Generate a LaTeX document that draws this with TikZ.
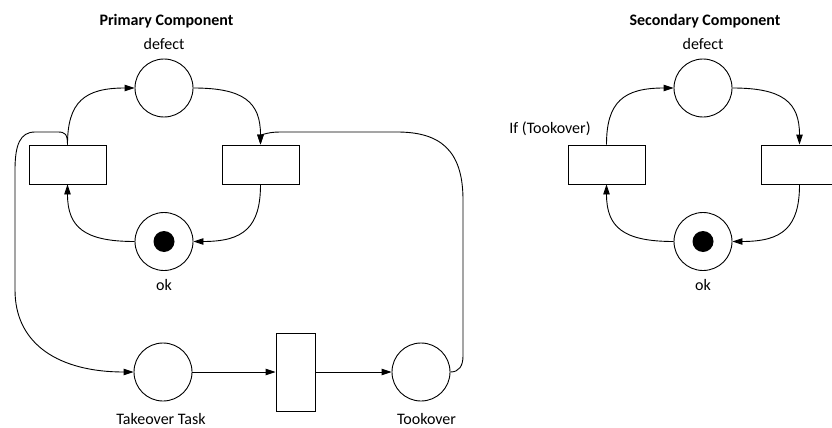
\documentclass[tikz,border=0pt]{standalone}
\usepackage{fontspec}
\setmainfont{Carlito}
\usetikzlibrary{arrows.meta,calc}
\begin{document}
\begin{tikzpicture}[x=1pt,y=-1pt,
  place/.style={circle,draw,minimum size=58pt,inner sep=0pt,line width=0.9pt},
  trans/.style={rectangle,draw,minimum width=77pt,minimum height=39pt,inner sep=0pt,line width=0.9pt},
  token/.style={circle,fill=black,minimum size=21pt,inner sep=0pt},
  arc/.style={line width=0.9pt,-{Triangle[length=10pt,width=6.5pt]}},
  % vertical first, then horizontal
  vh/.style={to path={.. controls ($(\tikztostart)!0.75!(\tikztostart|-\tikztotarget)$)
      and ($(\tikztotarget)!0.75!(\tikztostart|-\tikztotarget)$) .. (\tikztotarget)}},
  % horizontal first, then vertical
  hv/.style={to path={.. controls ($(\tikztostart)!0.75!(\tikztostart-|\tikztotarget)$)
      and ($(\tikztotarget)!0.75!(\tikztostart-|\tikztotarget)$) .. (\tikztotarget)}},
  lbl/.style={font=\fontsize{16}{19}\selectfont, anchor=base, inner sep=0pt},
  heading/.style={font=\fontsize{16}{19}\selectfont\bfseries, anchor=base, inner sep=0pt}
]
\clip (0,0) rectangle (832,428);

% ---------- Primary component ----------
\node[heading] (ptitle) at (166.5,26) {Primary Component};
\node[lbl] (pdeflbl) at (164,50) {defect};
\node[place] (pdef) at (164,88) {};
\node[trans] (pt1) at (67.5,164.5) {};
\node[trans] (pt2) at (260.5,164.5) {};
\node[place] (pok) at (164,241.5) {};
\node[token] (ptok) at (pok.center) {};
\node[lbl] (poklbl) at (164,290) {ok};

\draw[arc] (pt1.north) to[vh] (pdef.west);
\draw[arc] (pdef.east) to[hv] (pt2.north);
\draw[arc] (pt2.south) to[vh] (pok.east);
\draw[arc] (pok.west) to[hv] (pt1.south);

% ---------- Takeover chain ----------
\node[place] (task) at (163,372) {};
\node[trans,minimum width=39pt,minimum height=78pt] (tk) at (295.5,372) {};
\node[place] (took) at (421,372) {};
\node[lbl] (tasklbl) at (161,424.5) {Takeover Task};
\node[lbl] (tooklbl) at (426.5,424.5) {Tookover};

\draw[arc] (task.east) -- (tk.west);
\draw[arc] (tk.east) -- (took.west);

\draw[arc] (pt1.north) .. controls (67.5,134) and (65,132) .. (58,132)
  -- (35,132) .. controls (20,132) and (15,145) .. (15,170)
  -- (15,290) .. controls (15,345) and (60,372) .. (task.west);

\draw[arc] (took.east) .. controls (459,372) and (463,366) .. (463,356)
  -- (463,200) .. controls (463,150) and (440,132) .. (397,132)
  -- (280,132) .. controls (266,132) and (260.5,136) .. (pt2.north);

% ---------- Secondary component ----------
\node[heading] (stitle) at (705,26) {Secondary Component};
\node[lbl] (sdeflbl) at (703,50) {defect};
\node[place] (sdef) at (703,88) {};
\node[trans] (st1) at (606.5,164.5) {};
\node[trans] (st2) at (799.5,164.5) {};
\node[lbl] (iflbl) at (550,133) {If (Tookover)};
\node[place] (sok) at (703,241.5) {};
\node[token] (stok) at (sok.center) {};
\node[lbl] (soklbl) at (703,290) {ok};

\draw[arc] (st1.north) to[vh] (sdef.west);
\draw[arc] (sdef.east) to[hv] (st2.north);
\draw[arc] (st2.south) to[vh] (sok.east);
\draw[arc] (sok.west) to[hv] (st1.south);
\end{tikzpicture}
\end{document}
